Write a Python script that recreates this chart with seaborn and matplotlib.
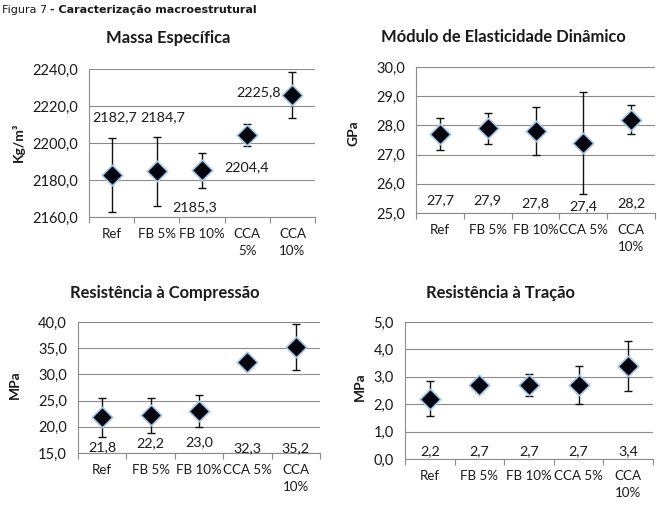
import numpy as np
import matplotlib
matplotlib.use('Agg')
import matplotlib.pyplot as plt
import matplotlib.ticker as mticker
import seaborn as sns

# categories
cats_wide = ['Ref', 'FB 5%', 'FB 10%', 'CCA 5%', 'CCA\n10%']
cats_narrow = ['Ref', 'FB 5%', 'FB 10%', 'CCA\n5%', 'CCA\n10%']

# Massa Especifica (Kg/m3)
massa = [2182.7, 2184.7, 2185.3, 2204.4, 2225.8]
massa_err = [20.0, 18.5, 9.5, 6.0, 12.5]

# Modulo de Elasticidade Dinamico (GPa)
modulo = [27.7, 27.9, 27.8, 27.4, 28.2]
modulo_err = [0.55, 0.53, 0.83, 1.76, 0.5]

# Resistencia a Compressao (MPa)
compressao = [21.8, 22.2, 23.0, 32.3, 35.2]
compressao_err = [3.7, 3.3, 3.1, 0.0, 4.4]

# Resistencia a Tracao (MPa)
tracao = [2.2, 2.7, 2.7, 2.7, 3.4]
tracao_err = [0.63, 0.26, 0.4, 0.68, 0.91]

sns.set_theme(style='white')
plt.rcParams['font.family'] = ['Lato', 'DejaVu Sans']

W, H = 657, 511
fig = plt.figure(figsize=(W / 100, H / 100), dpi=100)

GRID = '#8c8c8c'
TXT = '#1a1a1a'


def fmt(v):
    return f'{v:.1f}'.replace('.', ',')


def px_axes(l, t, r, b):
    return fig.add_axes([l / W, 1 - b / H, (r - l) / W, (b - t) / H])


def draw(ax, vals, errs, cats, ylim, step, label_pos):
    x = np.arange(len(vals))
    ax.errorbar(x, vals, yerr=errs, fmt='none', ecolor='#111111',
                elinewidth=1.0, capsize=3, capthick=1.0, zorder=2)
    sns.scatterplot(x=x, y=vals, ax=ax, marker='D', s=110, color='#050510',
                    edgecolor='#a9c9e8', linewidth=1.2, zorder=3, legend=False)
    for v, (lx, ly) in zip(vals, label_pos):
        ax.text(lx, ly, fmt(v), ha='center', va='center', fontsize=10.3,
                color=TXT, zorder=4)
    ax.set_xlim(-0.5, len(vals) - 0.5)
    ax.set_ylim(*ylim)
    ax.set_yticks(np.arange(ylim[0], ylim[1] + step / 2, step))
    ax.yaxis.set_major_formatter(mticker.FuncFormatter(lambda v, p: fmt(v)))
    ax.set_xticks(np.arange(-0.5, len(vals), 1.0))
    ax.set_xticklabels([])
    ax.set_xticks(x, minor=True)
    ax.set_xticklabels(cats, minor=True, fontsize=9.6, linespacing=1.45)
    ax.tick_params(axis='x', which='major', length=4, color=GRID, width=0.8,
                   direction='out', bottom=True)
    ax.tick_params(axis='x', which='minor', length=0, pad=8, colors=TXT)
    ax.tick_params(axis='y', length=0, labelsize=10.5, colors=TXT, pad=8)
    ax.grid(axis='y', color=GRID, linewidth=0.8)
    ax.grid(axis='x', visible=False)
    for s in ['top', 'right']:
        ax.spines[s].set_visible(False)
    for s in ['left', 'bottom']:
        ax.spines[s].set_color(GRID)
        ax.spines[s].set_linewidth(0.8)
    ax.set_xlabel('')
    ax.set_ylabel('')
    ax.set_facecolor('white')


ax1 = px_axes(89, 69, 315, 217)
draw(ax1, massa, massa_err, cats_narrow, (2160, 2240), 20,
     [(0.075, 2214), (1.137, 2214), (1.845, 2165.4), (2.995, 2187), (3.26, 2227.6)])

ax2 = px_axes(416, 67, 655, 213)
draw(ax2, modulo, modulo_err, cats_wide, (25, 30), 1,
     [(0, 25.45), (1, 25.45), (2, 25.35), (3, 25.25), (4, 25.35)])

ax3 = px_axes(78, 322, 320, 453)
draw(ax3, compressao, compressao_err, cats_wide, (15, 40), 5,
     [(0, 16.2), (1, 16.9), (2, 17.0), (3, 16.0), (4, 16.0)])

ax4 = px_axes(405, 322, 653, 459)
draw(ax4, tracao, tracao_err, cats_wide, (0, 5), 1,
     [(0, 0.27), (1, 0.27), (2, 0.27), (3, 0.27), (4, 0.27)])

# titles
for (cx, cy, t) in [(168, 38, 'Massa Específica'),
                    (503, 37, 'Módulo de Elasticidade Dinâmico'),
                    (165, 293, 'Resistência à Compressão'),
                    (500, 293, 'Resistência à Tração')]:
    fig.text(cx / W, 1 - cy / H, t, ha='center', va='center', fontsize=11.9,
             fontweight='bold', color=TXT)

# y labels
for (cx, cy, t) in [(18, 142, 'Kg/m³'), (353, 133, 'GPa'),
                    (15, 385, 'MPa'), (360, 387, 'MPa')]:
    fig.text(cx / W, 1 - cy / H, t, ha='center', va='center', fontsize=10,
             fontweight='bold', rotation=90, color=TXT)

# caption
fig.text(2 / W, 1 - 10 / H, 'Figura 7', ha='left', va='center', fontsize=8,
         family='DejaVu Sans', color=TXT)
fig.text(50 / W, 1 - 10 / H, '- Caracterização macroestrutural', ha='left',
         va='center', fontsize=8, family='DejaVu Sans', fontweight='bold',
         color=TXT)

fig.savefig('out.png', dpi=100, facecolor='white')
